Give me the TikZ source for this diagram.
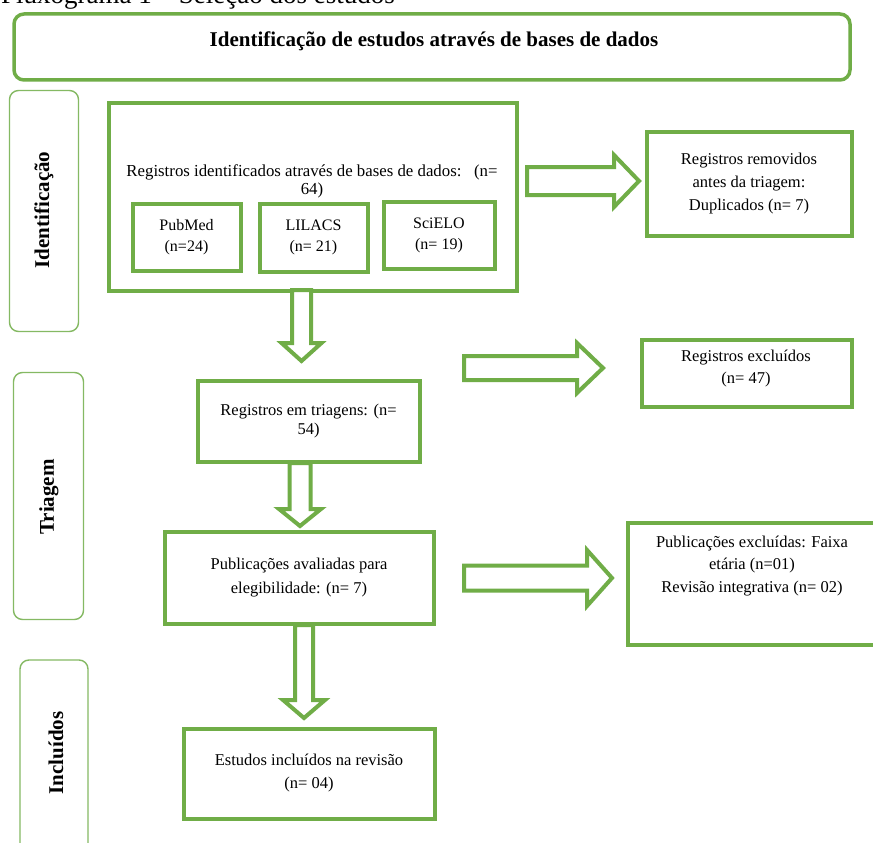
\documentclass[tikz,border=0pt]{standalone}
\usepackage{fontspec}
\setmainfont{Liberation Serif}
\definecolor{gr}{HTML}{70AD47}
\tikzset{
  gbox/.style={draw=gr, line width=4pt, fill=white, inner sep=0pt},
  sidebox/.style={draw=gr!85, line width=1.4pt, rounded corners=9pt, inner sep=0pt},
  titlebox/.style={draw=gr, line width=3.5pt, rounded corners=10pt, inner sep=0pt},
  btxt/.style={font=\fontsize{16}{21}\selectfont, align=center, text=black},
  sidelab/.style={font=\fontsize{21}{24}\selectfont\bfseries, rotate=90, inner sep=0pt},
  barrow/.style={draw=gr, line width=4pt, fill=white, line join=miter},
}
\newcommand{\myrarrow}[6]{\draw[barrow] (#1,{#3-#4}) -- ({#2-#6},{#3-#4}) -- ({#2-#6},{#3-#5}) -- (#2,#3) -- ({#2-#6},{#3+#5}) -- ({#2-#6},{#3+#4}) -- (#1,{#3+#4}) -- cycle;}
\newcommand{\mydarrow}[6]{\draw[barrow] ({#1-#4},#2) -- ({#1-#4},{#3-#6}) -- ({#1-#5},{#3-#6}) -- (#1,#3) -- ({#1+#5},{#3-#6}) -- ({#1+#4},{#3-#6}) -- ({#1+#4},#2) -- cycle;}
\begin{document}
\begin{tikzpicture}[x=1pt,y=-1pt]
\useasboundingbox (0,0) rectangle (873,843);
\fill[white] (0,0) rectangle (873,843);

% caption (cut at top, as in the reference)
\node[anchor=base west, inner sep=0pt, font=\fontsize{27}{30}\selectfont] (cap) at (1,4) {Fluxograma 1 -- Seleção dos estudos};

% title
\node[titlebox, minimum width=836pt, minimum height=66pt] (title) at (432,47) {};
\node[font=\fontsize{21}{24}\selectfont\bfseries, inner sep=0pt] (titletxt) at (434,41) {Identificação de estudos através de bases de dados};

% side boxes
\node[sidebox, minimum width=69pt, minimum height=241pt] (sid1) at (44,211) {};
\node[sidelab] (sid1t) at (44,210) {Identificação};
\node[sidebox, minimum width=70pt, minimum height=247pt] (sid2) at (48.5,496) {};
\node[sidelab] (sid2t) at (49,497) {Triagem};
\node[sidebox, minimum width=68pt, minimum height=200pt] (sid3) at (54,760) {};
\node[sidelab] (sid3t) at (56,753) {Incluídos};

% identification box
\node[gbox, minimum width=408pt, minimum height=188pt] (b1) at (312.5,196.5) {};
\node[btxt, font=\fontsize{16.8}{18}\selectfont] (b1t) at (312,181) {Registros identificados através de bases de dados:~~~(n=\\64)};
\node[gbox, btxt, minimum width=108pt, minimum height=67pt] (pub) at (186.5,237) {PubMed\\(n=24)};
\node[gbox, btxt, minimum width=108pt, minimum height=68pt] (lil) at (313.5,237.5) {LILACS\\(n= 21)};
\node[gbox, btxt, minimum width=111pt, minimum height=67pt] (sci) at (439,235) {SciELO\\(n= 19)};

% right boxes
\node[gbox, btxt, font=\fontsize{16.5}{23}\selectfont, minimum width=205pt, minimum height=104pt] (rem) at (749,183.5) {Registros removidos\\antes da triagem:\\Duplicados (n= 7)};
\node[gbox, minimum width=210pt, minimum height=67pt] (exc) at (746.5,373) {};
\node[btxt, font=\fontsize{16.5}{22}\selectfont] (exct) at (746,369) {Registros excluídos\\(n= 47)};
\node[gbox, minimum width=251pt, minimum height=122pt] (pex) at (753,583.5) {};
\node[btxt, font=\fontsize{16.5}{22.5}\selectfont] (pext) at (752,566) {Publicações excluídas: Faixa\\etária (n=01)\\Revisão integrativa (n= 02)};

% main column
\node[gbox, btxt, font=\fontsize{16.5}{19}\selectfont, minimum width=222pt, minimum height=81pt] (tri) at (308.5,421) {Registros em triagens: (n=\\54)};
\node[gbox, btxt, font=\fontsize{16.5}{24}\selectfont, minimum width=269pt, minimum height=92pt] (ava) at (299,577.5) {Publicações avaliadas para\\elegibilidade: (n= 7)};
\node[gbox, btxt, font=\fontsize{16.5}{23}\selectfont, minimum width=251pt, minimum height=90pt] (inc) at (309,773.5) {Estudos incluídos na revisão\\(n= 04)};

% block arrows
\myrarrow{527}{639}{181}{14}{26}{25}
\myrarrow{464}{603}{368}{12}{25}{26}
\myrarrow{464}{612}{578}{12.5}{28}{25}
\mydarrow{301.5}{290}{361}{9.5}{20}{18}
\mydarrow{300}{463}{526}{10.5}{21}{17}
\mydarrow{304}{625}{718}{9}{21}{18}
\end{tikzpicture}
\end{document}
